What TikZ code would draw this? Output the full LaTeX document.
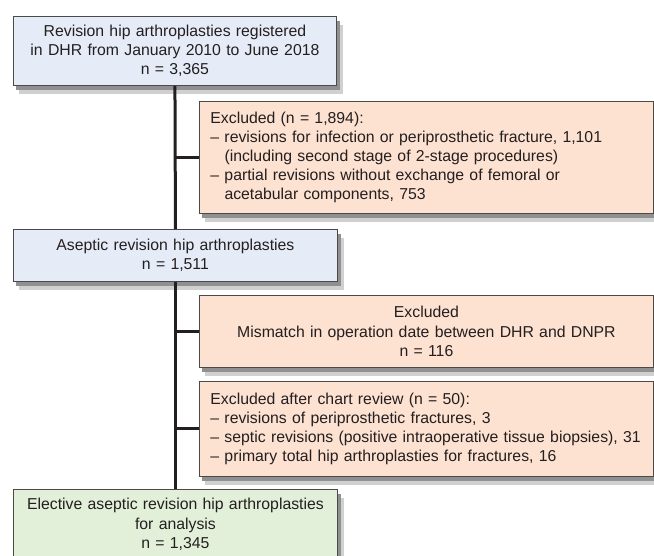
\documentclass[tikz,border=0pt]{standalone}
\usepackage{fontspec}
\setmainfont{Liberation Sans}
\definecolor{bluefill}{HTML}{E6ECF7}
\definecolor{orangefill}{HTML}{FDE1D1}
\definecolor{greenfill}{HTML}{E2EFD9}
\definecolor{edge}{HTML}{4A4A4A}
\definecolor{ink}{HTML}{231F20}
\definecolor{shadowfar}{HTML}{D0D0D0}
\definecolor{shadownear}{HTML}{909090}
\tikzset{
  boxbase/.style={draw=edge, line width=0.9pt, anchor=north west, inner ysep=2pt,
    text=ink, font=\fontsize{15.8}{19.2}\selectfont},
  mainbox/.style={boxbase, fill=bluefill, minimum width=323pt, text width=315pt, inner xsep=4pt, align=center},
  finbox/.style={boxbase, fill=greenfill, minimum width=324pt, text width=316pt, inner xsep=4pt, align=center},
  exclbox/.style={boxbase, fill=orangefill, minimum width=454pt, text width=432pt, inner xsep=11pt},
  trunk/.style={line width=3pt, draw=ink},
  shfar/.style={fill=shadowfar, draw=none},
  shnear/.style={fill=shadownear, draw=none}
}
\newcommand{\hang}{\phantom{– }}
\begin{document}
\begin{tikzpicture}[x=1pt,y=1pt]
\useasboundingbox (0,0) rectangle (654,-555);
% soft drop shadows behind the boxes
\path[shfar]  (19,-25) rectangle (343,-94);
\path[shnear] (16,-21) rectangle (340,-90);
\path[shfar]  (205,-110) rectangle (660,-222);
\path[shnear] (202,-106) rectangle (657,-218);
\path[shfar]  (19,-238) rectangle (344,-290);
\path[shnear] (16,-234) rectangle (341,-286);
\path[shfar]  (205,-304) rectangle (660,-376);
\path[shnear] (202,-300) rectangle (657,-372);
\path[shfar]  (205,-390) rectangle (660,-485);
\path[shnear] (202,-386) rectangle (657,-481);
\path[shfar]  (19,-498) rectangle (344,-570);
\path[shnear] (16,-494) rectangle (341,-566);
\node[mainbox, minimum height=69pt] (b1) at (13,-16)
  {Revision hip arthroplasties registered\\in DHR from January 2010 to June 2018\\n = 3,365};
\node[exclbox, minimum height=112pt, align=left] (e1) at (199,-101)
  {Excluded (n = 1,894):\\
   – revisions for infection or periprosthetic fracture, 1,101\\
   \hang(including second stage of 2-stage procedures)\\
   – partial revisions without exchange of femoral or\\
   \hang acetabular components, 753};
\node[mainbox, minimum width=324pt, minimum height=52pt] (b2) at (13,-229)
  {Aseptic revision hip arthroplasties\\n = 1,511};
\node[exclbox, minimum height=72pt, align=center] (e2) at (199,-295)
  {Excluded\\Mismatch in operation date between DHR and DNPR\\n = 116};
\node[exclbox, minimum height=95pt, align=left] (e3) at (199,-381)
  {Excluded after chart review (n = 50):\\
   – revisions of periprosthetic fractures, 3\\
   – septic revisions (positive intraoperative tissue biopsies), 31\\
   – primary total hip arthroplasties for fractures, 16};
\node[finbox, minimum height=70pt] (fin) at (13,-489)
  {Elective aseptic revision hip arthroplasties\\for analysis\\n = 1,345};
\draw[trunk] (b1.south) -- (b2.north);
\draw[trunk] (b2.south) -- (fin.north);
\draw[trunk] (e1.west -| b1.south) -- (e1.west);
\draw[trunk] (e2.west -| b1.south) -- (e2.west);
\draw[trunk] (e3.west -| b1.south) -- (e3.west);
\end{tikzpicture}
\end{document}
